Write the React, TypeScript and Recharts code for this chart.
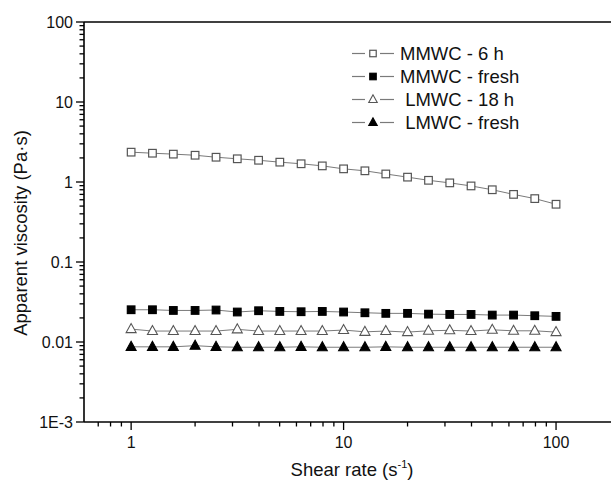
import { LineChart, Line, XAxis, YAxis, Legend, ReferenceLine } from "recharts";

const shearRate = [1, 1.26, 1.58, 2, 2.51, 3.16, 3.98, 5.01, 6.31, 7.94, 10, 12.6, 15.8, 20, 25.1, 31.6, 39.8, 50.1, 63.1, 79.4, 100];
const mmwc6h = [2.36, 2.29, 2.23, 2.16, 2.04, 1.95, 1.87, 1.77, 1.69, 1.59, 1.46, 1.38, 1.26, 1.15, 1.05, 0.975, 0.893, 0.8, 0.7, 0.62, 0.527];
const mmwcFresh = [0.0253, 0.0253, 0.0248, 0.0248, 0.0251, 0.0237, 0.0246, 0.0241, 0.0239, 0.0241, 0.0237, 0.0232, 0.0228, 0.0228, 0.0223, 0.0221, 0.0221, 0.0217, 0.0217, 0.0213, 0.0209];
const lmwc18h = [0.0145, 0.0137, 0.0137, 0.0137, 0.0137, 0.0144, 0.0137, 0.0137, 0.0137, 0.0137, 0.0141, 0.0134, 0.0137, 0.0133, 0.0138, 0.014, 0.0137, 0.0142, 0.0138, 0.0138, 0.0133];
const lmwcFresh = [0.0087, 0.0087, 0.0087, 0.009, 0.0087, 0.0086, 0.0086, 0.0086, 0.0087, 0.0086, 0.0086, 0.0086, 0.0087, 0.0086, 0.0086, 0.0086, 0.0086, 0.0086, 0.0086, 0.0086, 0.0086];

const xMajor = [1, 10, 100];
const xMinor = [0.7, 0.8, 0.9, 2, 3, 4, 5, 6, 7, 8, 9, 20, 30, 40, 50, 60, 70, 80, 90];
const yMajor = [0.001, 0.01, 0.1, 1, 10, 100];
const yMajorLabels = ["1E-3", "0.01", "0.1", "1", "10", "100"];
const yMinor = [
  0.002, 0.003, 0.004, 0.005, 0.006, 0.007, 0.008, 0.009,
  0.02, 0.03, 0.04, 0.05, 0.06, 0.07, 0.08, 0.09,
  0.2, 0.3, 0.4, 0.5, 0.6, 0.7, 0.8, 0.9,
  2, 3, 4, 5, 6, 7, 8, 9,
  20, 30, 40, 50, 60, 70, 80, 90,
];

const data = shearRate.map((x, i) => ({
  x,
  mmwc6h: mmwc6h[i],
  mmwcFresh: mmwcFresh[i],
  lmwc18h: lmwc18h[i],
  lmwcFresh: lmwcFresh[i],
}));

const FONT = "'Liberation Sans', Arial, sans-serif";
const LINE_GRAY = "#7a7a7a";

type Shape = "openSquare" | "square" | "openTriangle" | "triangle";

const series: { key: string; name: string; shape: Shape }[] = [
  { key: "mmwc6h", name: "MMWC - 6 h", shape: "openSquare" },
  { key: "mmwcFresh", name: "MMWC - fresh", shape: "square" },
  { key: "lmwc18h", name: " LMWC - 18 h", shape: "openTriangle" },
  { key: "lmwcFresh", name: " LMWC - fresh", shape: "triangle" },
];

function Marker({ cx, cy, shape, s = 1 }: { cx: number; cy: number; shape: Shape; s?: number }) {
  if (shape === "openSquare" || shape === "square") {
    const h = 3.8 * s;
    const open = shape === "openSquare";
    return (
      <rect x={cx - h} y={cy - h} width={h * 2} height={h * 2}
        fill={open ? "#fff" : "#000"} stroke={open ? "#555" : "#000"} strokeWidth={1.2} />
    );
  }
  const open = shape === "openTriangle";
  const w = 5 * s;
  const pts = `${cx},${cy - 5.5 * s} ${cx - w},${cy + 3.5 * s} ${cx + w},${cy + 3.5 * s}`;
  return <polygon points={pts} fill={open ? "#fff" : "#000"} stroke={open ? "#555" : "#000"} strokeWidth={1.1} />;
}

const dotFor = (shape: Shape) => (p: any) =>
  <Marker key={p.index} cx={p.cx} cy={p.cy} shape={shape} />;

// major ticks get a label and a longer mark, minor ones only a short mark
function XTick({ x, y, payload }: any) {
  const major = xMajor.includes(payload.value);
  return (
    <g>
      <rect x={x - 0.65} y={y} width={1.3} height={major ? 8 : 4.5} fill="#000" />
      {major && (
        <text x={x} y={y + 26} textAnchor="middle" fontSize={16} fontFamily={FONT} fill="#111">
          {payload.value}
        </text>
      )}
    </g>
  );
}

function YTick({ x, y, payload }: any) {
  const idx = yMajor.indexOf(payload.value);
  const major = idx >= 0;
  const len = major ? 8 : 4.5;
  return (
    <g>
      <rect x={x - len} y={y - 0.65} width={len} height={1.3} fill="#000" />
      {major && (
        <text x={x - 11} y={y + 5.7} textAnchor="end" fontSize={16} fontFamily={FONT} fill="#111">
          {yMajorLabels[idx]}
        </text>
      )}
    </g>
  );
}

function XTitle({ viewBox }: any) {
  const cx = viewBox.x + viewBox.width / 2;
  return (
    <text x={cx} y={viewBox.y + 54} textAnchor="middle" fontSize={18.5} fontFamily={FONT} fill="#111">
      Shear rate (s
      <tspan fontSize={11} dy={-8}>-1</tspan>
      <tspan dy={8}>)</tspan>
    </text>
  );
}

function YTitle() {
  const cy = 233;
  const bx = 27;
  return (
    <text x={bx} y={cy} transform={`rotate(-90 ${bx} ${cy})`} textAnchor="middle"
      fontSize={18.5} fontFamily={FONT} fill="#111">
      Apparent viscosity (Pa·s)
    </text>
  );
}

function LegendBox() {
  return (
    <div style={{ fontFamily: FONT, fontSize: 18.5, color: "#111" }}>
      {series.map((s) => (
        <div key={s.key} style={{ display: "flex", alignItems: "center", height: 23 }}>
          <svg width={42} height={23}>
            <line x1={0} x2={13} y1={11.5} y2={11.5} stroke={LINE_GRAY} strokeWidth={1.2} />
            <line x1={28} x2={42} y1={11.5} y2={11.5} stroke={LINE_GRAY} strokeWidth={1.2} />
            <Marker cx={21} cy={11.5} shape={s.shape} s={0.85} />
          </svg>
          <span style={{ marginLeft: 6, whiteSpace: "pre" }}>{s.name}</span>
        </div>
      ))}
    </div>
  );
}

export default function App() {
  return (
    <div style={{ position: "absolute", left: 0, top: 0, width: 611, height: 481, overflow: "hidden", background: "#fff" }}>
      <LineChart width={621} height={481} data={data} margin={{ top: 22, right: 1, bottom: 0, left: 0 }}>
        <XAxis dataKey="x" type="number" scale="log" domain={[0.6, 200]} allowDataOverflow
          ticks={[...xMinor, ...xMajor].sort((a, b) => a - b)} interval={0}
          tick={<XTick />} tickLine={false} tickSize={0} tickMargin={0} height={59}
          axisLine={{ stroke: "#000", strokeWidth: 1.6 }} label={<XTitle />} />
        <YAxis type="number" scale="log" domain={[0.001, 100]} allowDataOverflow
          ticks={[...yMinor, ...yMajor].sort((a, b) => a - b)} interval={0}
          tick={<YTick />} tickLine={false} tickSize={0} tickMargin={0} width={84}
          axisLine={{ stroke: "#000", strokeWidth: 1.6 }} label={<YTitle />} />
        <ReferenceLine y={100} stroke="#000" strokeWidth={1.6} />
        <ReferenceLine x={200} stroke="#000" strokeWidth={1.6} />
        <Legend layout="vertical" align="center" verticalAlign="middle" content={<LegendBox />}
          wrapperStyle={{ top: 42, left: 352, width: 240 }} />
        {series.map((s) => (
          <Line key={s.key} dataKey={s.key} name={s.name} stroke={LINE_GRAY} strokeWidth={1}
            dot={dotFor(s.shape)} activeDot={false} isAnimationActive={false} />
        ))}
      </LineChart>
    </div>
  );
}
